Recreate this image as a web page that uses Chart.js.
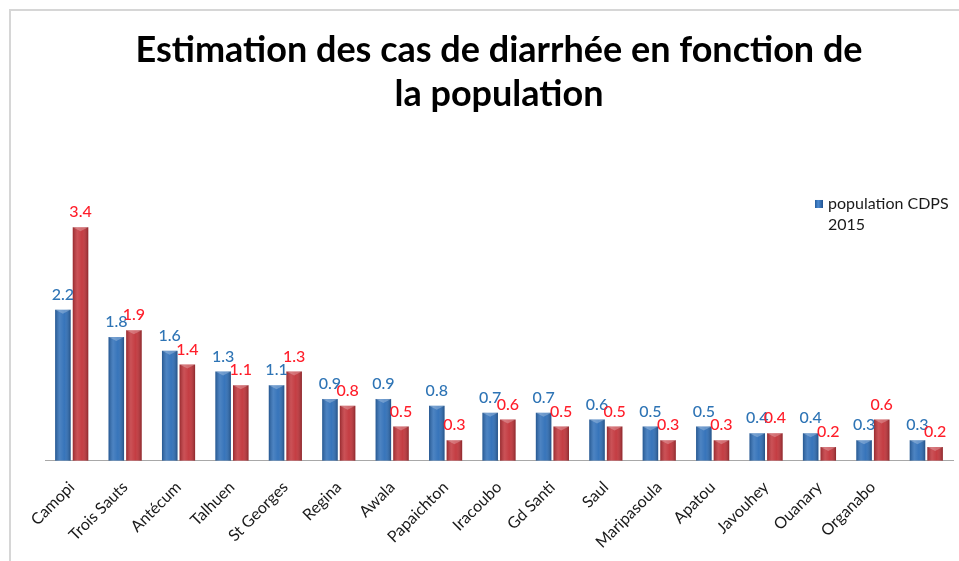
<!DOCTYPE html>
<html>
<head>
<meta charset="utf-8">
<script src="https://cdn.jsdelivr.net/npm/chart.js@4.4.0/dist/chart.umd.min.js"></script>
<style>
  html, body { margin: 0; padding: 0; background: #fff; }
  #frame { position: absolute; left: 9px; top: 9px; width: 960px; height: 560px;
           border-top: 2px solid #d6d6d6; border-left: 2px solid #d6d6d6; }
  #wrap { position: absolute; left: 0; top: 0; width: 959px; height: 561px; }
</style>
</head>
<body>
<div id="frame"></div>
<div id="wrap"><canvas id="chart"></canvas></div>
<script>
const communes = ['Camopi', 'Trois Sauts', 'Antécum', 'Talhuen', 'St Georges', 'Regina', 'Awala',
  'Papaichton', 'Iracoubo', 'Gd Santi', 'Saul', 'Maripasoula', 'Apatou', 'Javouhey', 'Ouanary',
  'Organabo', ''];
const population = [2.2, 1.8, 1.6, 1.3, 1.1, 0.9, 0.9, 0.8, 0.7, 0.7, 0.6, 0.5, 0.5, 0.4, 0.4, 0.3, 0.3];
const diarrhee = [3.4, 1.9, 1.4, 1.1, 1.3, 0.8, 0.5, 0.3, 0.6, 0.5, 0.5, 0.3, 0.3, 0.4, 0.2, 0.6, 0.2];

const titleLines = ['Estimation des cas de diarrhée en fonction de', 'la population'];
const legendLines = ['population CDPS', '2015'];

// Colors
const blueBar = '#2f6fb8';
const redBar = '#c2353b';
const blueText = '#2e74b5';
const redText = '#ff1e2a';

// 3D-ish shading on each bar, using the bar geometry from Chart.js
const barShading = {
  id: 'barShading',
  afterDatasetsDraw(chart) {
    const { ctx } = chart;
    chart.data.datasets.forEach((ds, di) => {
      const meta = chart.getDatasetMeta(di);
      meta.data.forEach(bar => {
        const left = bar.x - bar.width / 2;
        const right = bar.x + bar.width / 2;
        const g = ctx.createLinearGradient(left, 0, right, 0);
        g.addColorStop(0, 'rgba(0,0,0,0.22)');
        g.addColorStop(0.3, 'rgba(255,255,255,0.14)');
        g.addColorStop(0.6, 'rgba(255,255,255,0.04)');
        g.addColorStop(1, 'rgba(0,0,0,0.28)');
        ctx.save();
        ctx.fillStyle = g;
        ctx.fillRect(left, bar.y, bar.width, bar.base - bar.y);
        // top bevel
        ctx.fillStyle = 'rgba(255,255,255,0.25)';
        ctx.beginPath();
        ctx.moveTo(left, bar.y);
        ctx.lineTo(right, bar.y);
        ctx.lineTo(bar.x, bar.y + 4);
        ctx.closePath();
        ctx.fill();
        ctx.restore();
      });
    });
  }
};

// value labels above the bars
const valueLabels = {
  id: 'valueLabels',
  afterDatasetsDraw(chart) {
    const { ctx } = chart;
    ctx.save();
    ctx.font = '500 16px Lato';
    ctx.textAlign = 'center';
    ctx.textBaseline = 'bottom';
    chart.data.datasets.forEach((ds, di) => {
      const meta = chart.getDatasetMeta(di);
      ctx.fillStyle = ds.labelColor;
      meta.data.forEach((bar, i) => {
        ctx.fillText(ds.data[i].toFixed(1), bar.x, bar.y - 7);
      });
    });
    ctx.restore();
  }
};

// legend overlaid on the top right of the plot, like the original
const overlayLegend = {
  id: 'overlayLegend',
  afterDraw(chart) {
    const { ctx, chartArea } = chart;
    const x = chartArea.right - 138;
    const y = chartArea.top + 18;
    ctx.save();
    const g = ctx.createLinearGradient(x, 0, x + 8, 0);
    g.addColorStop(0, '#255c9c');
    g.addColorStop(0.4, '#4b8ad2');
    g.addColorStop(1, '#1f5290');
    ctx.fillStyle = g;
    ctx.fillRect(x, y - 4, 8, 8);
    ctx.fillStyle = '#1a1a1a';
    ctx.font = '16px Lato';
    ctx.textBaseline = 'middle';
    ctx.fillText(legendLines[0], x + 13, y);
    ctx.fillText(legendLines[1], x + 13, y + 21);
    ctx.restore();
  }
};

new Chart(document.getElementById('chart').getContext('2d'), {
  type: 'bar',
  data: {
    labels: communes,
    datasets: [
      {
        label: 'population CDPS 2015',
        data: population,
        backgroundColor: blueBar,
        labelColor: blueText,
        categoryPercentage: 0.66,
        barPercentage: 0.88
      },
      {
        label: 'cas de diarrhée',
        data: diarrhee,
        backgroundColor: redBar,
        labelColor: redText,
        categoryPercentage: 0.66,
        barPercentage: 0.88
      }
    ]
  },
  options: {
    responsive: true,
    maintainAspectRatio: false,
    animation: false,
    layout: { padding: { left: 45, right: 6, top: 0, bottom: 0 } },
    scales: {
      x: {
        grid: { display: false },
        border: { display: true, color: '#a8a8a8', width: 1 },
        ticks: {
          color: '#1a1a1a',
          font: { family: 'Lato', size: 16 },
          minRotation: 45,
          maxRotation: 45,
          padding: 9
        }
      },
      y: {
        display: false,
        min: 0,
        max: 4
      }
    },
    plugins: {
      legend: { display: false },
      tooltip: { enabled: false },
      title: {
        display: true,
        text: titleLines,
        color: '#000',
        font: { family: 'Lato', size: 36, weight: 'bold', lineHeight: 1.222 },
        padding: { top: 28, bottom: 70 }
      }
    }
  },
  plugins: [barShading, valueLabels, overlayLegend]
});
</script>
</body>
</html>
